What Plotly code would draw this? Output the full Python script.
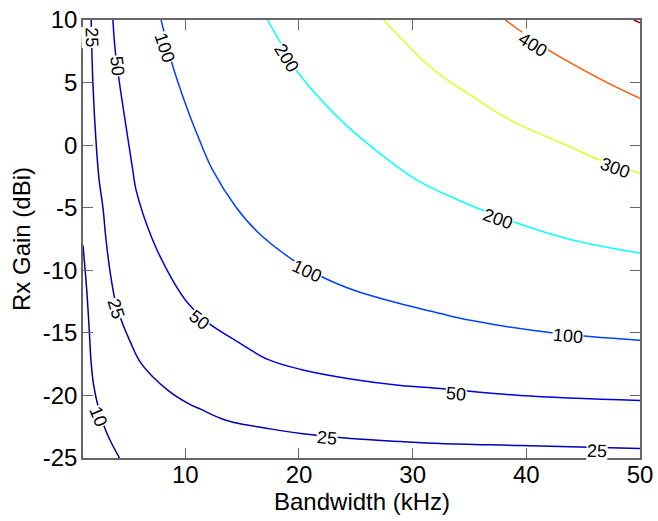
import plotly.graph_objects as go

# Contour levels (kbps) and traced contour lines (Bandwidth kHz, Rx Gain dBi)
levels = [10, 25, 50, 100, 200, 300, 400, 500]

c10_x = [1.0, 1.33, 1.55, 1.72, 1.94, 2.31, 2.89, 3.48, 4.21]
c10_y = [-8.0, -11.6, -14.8, -17.44, -19.2, -20.8, -22.54, -23.76, -25.0]

c25_x = [1.72, 1.87, 2.16, 2.42, 2.75, 3.03, 3.39, 3.83, 4.44, 5.14, 6.11, 8.48,
         10.24, 11.38, 13.13, 14.28, 17.26, 20.16, 24.55, 28.94, 32.45, 39.48, 50.0]
c25_y = [10.0, 4.96, 0.08, -2.8, -4.96, -7.6, -10.16, -12.4, -14.16, -15.68, -17.44, -19.6,
         -20.64, -21.12, -21.84, -22.16, -22.64, -23.04, -23.44, -23.68, -23.84, -24.0, -24.24]

c50_x = [3.63, 3.83, 4.21, 4.66, 5.38, 5.67, 7.14, 8.89, 10.24, 12.11, 14.16, 17.26,
         20.16, 24.55, 28.94, 32.45, 39.48, 50.0]
c50_y = [10.0, 7.6, 4.96, 2.24, -2.0, -3.6, -7.6, -10.8, -12.64, -14.26, -15.46, -17.12,
         -17.92, -18.68, -19.2, -19.44, -20.0, -20.4]

c100_x = [7.87, 8.31, 8.74, 10.21, 11.25, 12.41, 14.45, 16.36, 19.28, 21.92, 24.84,
          28.35, 32.45, 35.08, 42.4, 50.0]
c100_y = [10.0, 8.4, 6.8, 2.8, 0.4, -2.0, -4.94, -6.94, -9.06, -10.48, -11.6,
          -12.54, -13.46, -14.0, -15.02, -15.6]

c200_x = [17.23, 18.49, 19.87, 23.08, 26.01, 30.4, 35.08, 38.89, 44.15, 50.0]
c200_y = [10.0, 8.0, 5.86, 2.54, 0.14, -2.8, -4.8, -6.14, -7.6, -8.62]

c300_x = [27.42, 29.82, 30.69, 32.45, 35.08, 38.6, 43.86, 46.5, 50.0]
c300_y = [10.0, 7.76, 6.94, 5.6, 4.0, 2.0, -0.14, -1.2, -2.26]

c400_x = [38.16, 40.35, 41.96, 45.33, 47.38, 50.0]
c400_y = [10.0, 8.56, 7.6, 5.86, 4.88, 3.74]

c500_x = [49.45, 50.0]
c500_y = [10.0, 9.78]

# Inline contour labels
label_text = ["25", "50", "100", "200", "400", "300", "200", "100", "100",
              "50", "50", "25", "25", "25", "10"]
label_x = [1.77, 4.0, 8.22, 18.93, 40.61, 47.81, 37.5, 20.68, 43.64,
           11.23, 33.85, 3.92, 22.5, 46.23, 2.29]
label_y = [8.64, 6.32, 7.8, 7.0, 8.04, -1.84, -5.88, -10.04, -15.24,
           -14.0, -19.92, -13.08, -23.44, -24.44, -21.68]
label_angle = [88, 84, 72, 58, 32, 20, 20, 25, 5, 38, 5, 73, 5, 2, 68]

# Tick labels
x_ticks = [10, 20, 30, 40, 50]
x_ticktext = ["10", "20", "30", "40", "50"]
y_ticks = [-25, -20, -15, -10, -5, 0, 5, 10]
y_ticktext = ["-25", "-20", "-15", "-10", "-5", "0", "5", "10"]

colors = ["#000094", "#0000b0", "#0000e0", "#0042ff", "#0affff",
          "#dcff22", "#ff5a00", "#a00000"]

lines_x = [c10_x, c25_x, c50_x, c100_x, c200_x, c300_x, c400_x, c500_x]
lines_y = [c10_y, c25_y, c50_y, c100_y, c200_y, c300_y, c400_y, c500_y]

FONT = "Liberation Sans, Arial, sans-serif"

fig = go.Figure()
for lv, xs, ys, col in zip(levels, lines_x, lines_y, colors):
    fig.add_trace(go.Scatter(x=xs, y=ys, mode="lines", name=str(lv),
                             line=dict(color=col, width=1.5, shape="spline", smoothing=1.0),
                             showlegend=False, hoverinfo="skip"))

annotations = []
for t, x, y, a in zip(label_text, label_x, label_y, label_angle):
    annotations.append(dict(x=x, y=y, xref="x", yref="y", text=t, showarrow=False,
                            textangle=a, bgcolor="white", borderpad=0,
                            font=dict(family=FONT, size=18, color="black")))

annotations.append(dict(x=0.5, y=0, xref="paper", yref="paper", text="Bandwidth (kHz)",
                        showarrow=False, xanchor="center", yanchor="top", yshift=-28,
                        font=dict(family=FONT, size=24, color="black")))
annotations.append(dict(x=0, y=0.5, xref="paper", yref="paper", text="Rx Gain (dBi)",
                        showarrow=False, xanchor="center", yanchor="middle", xshift=-62,
                        textangle=-90, font=dict(family=FONT, size=24, color="black")))

axis_common = dict(showgrid=False, zeroline=False, showline=True, linecolor="#666666",
                   linewidth=1.5, mirror="ticks", ticks="inside", ticklen=10,
                   tickcolor="#666666", tickwidth=1, automargin=False,
                   tickfont=dict(family=FONT, size=24, color="black"))

fig.update_layout(
    template="none",
    width=658, height=521,
    margin=dict(l=83, r=18, t=20, b=63, pad=0),
    paper_bgcolor="white", plot_bgcolor="white",
    font=dict(family=FONT, size=24, color="black"),
    annotations=annotations,
    xaxis=dict(range=[1, 50], tickvals=x_ticks, ticktext=x_ticktext,
               ticklabelstandoff=-6, **axis_common),
    yaxis=dict(range=[-25, 10], tickvals=y_ticks, ticktext=y_ticktext,
               ticklabelstandoff=-1, **axis_common),
)

fig.write_html("out.html")
